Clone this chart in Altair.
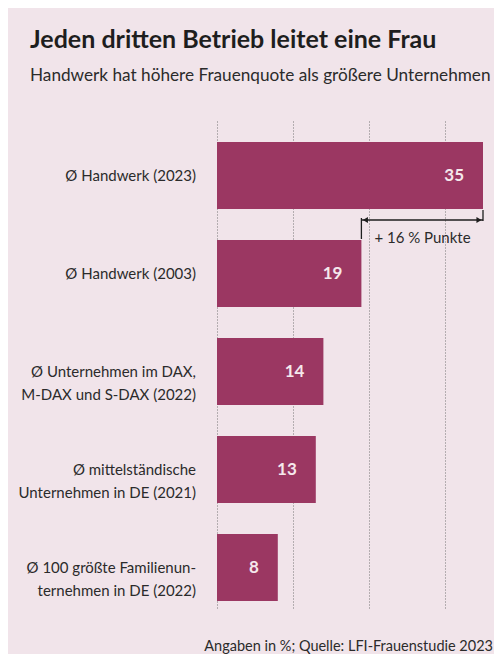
import altair as alt
import pandas as pd

# ---- data ----
labels = [
    "Ø Handwerk (2023)",
    "Ø Handwerk (2003)",
    "Ø Unternehmen im DAX,\nM-DAX und S-DAX (2022)",
    "Ø mittelständische\nUnternehmen in DE (2021)",
    "Ø 100 größte Familienun-\nternehmen in DE (2022)",
]
values = [35, 19, 14, 13, 8]
gap_from = [19]
gap_to = [35]
gap_text = "+ 16 % Punkte"
grid_ticks = [0, 10, 20, 30]
title_text = "Jeden dritten Betrieb leitet eine Frau"
subtitle_text = "Handwerk hat höhere Frauenquote als größere Unternehmen"
source_text = "Angaben in %; Quelle: LFI-Frauenstudie 2023"

df = pd.DataFrame({"label": labels, "value": values})
ann = pd.DataFrame({"x": gap_from, "x2": gap_to})

FONT = "Lato, Roboto, sans-serif"
BAR = "#9b3762"
INK = "#2b2b2b"
BG = "#f1e4ea"
W, H = 266, 488

x = alt.X(
    "value:Q",
    scale=alt.Scale(domain=[0, 35], nice=False, zero=True),
    axis=alt.Axis(values=grid_ticks, grid=True, gridDash=[1, 2], gridColor="#777777",
                  gridWidth=1, labels=False, ticks=False, domain=False, title=None),
)
y = alt.Y("label:N", sort=labels,
          scale=alt.Scale(paddingInner=0.316, paddingOuter=0.148, align=0.76),
          axis=None)

base = alt.Chart(df)
bars = base.mark_bar(color=BAR).encode(x=x, y=y)
vals = base.mark_text(align="right", baseline="middle", dx=-19, fontSize=17,
                      fontWeight="bold", font=FONT, color="#f5e8ec").encode(
    x=alt.X("value:Q"), y=y, text="value:Q")
cats = base.mark_text(align="right", baseline="middle", lineBreak="\n", fontSize=15,
                      lineHeight=23, font=FONT, color=INK).encode(
    x=alt.value(-21), y=y, text="label:N")

a = alt.Chart(ann)
hline = a.mark_rule(color="#1e1e1e", strokeWidth=1.3).encode(
    x="x:Q", x2="x2:Q", y=alt.value(100))
lvert = a.mark_rule(color="#1e1e1e", strokeWidth=1.3).encode(
    x="x:Q", y=alt.value(98), y2=alt.value(119))
rvert = a.mark_rule(color="#1e1e1e", strokeWidth=1.3).encode(
    x="x2:Q", y=alt.value(90), y2=alt.value(101))
larrow = a.mark_point(shape="triangle-left", filled=True, size=35, color="#1e1e1e", opacity=1).encode(
    x="x:Q", y=alt.value(100), xOffset=alt.value(4))
rarrow = a.mark_point(shape="triangle-right", filled=True, size=35, color="#1e1e1e", opacity=1).encode(
    x="x2:Q", y=alt.value(100), xOffset=alt.value(-4))
gtext = a.mark_text(align="left", baseline="middle", dx=13, fontSize=15, font=FONT, color=INK).encode(
    x="x:Q", y=alt.value(118), text=alt.value(gap_text))
footer = a.mark_text(align="right", baseline="middle", fontSize=14.5, font=FONT, color=INK).encode(
    x=alt.value(W + 10), y=alt.value(H + 39), text=alt.value(source_text))

chart = alt.layer(bars, vals, cats, hline, lvert, rvert, larrow, rarrow, gtext, footer).properties(
    width=W, height=H,
    autosize="none",
    padding={"left": 209, "top": 112, "right": 11, "bottom": 46},
    background=BG,
    title=alt.TitleParams(
        text=title_text, subtitle=subtitle_text, anchor="start", frame="group",
        dx=-187, offset=36, font=FONT, fontSize=25, fontWeight="bold", color="#1e1e1e",
        subtitleFont=FONT, subtitleFontSize=17.2, subtitleColor=INK, subtitlePadding=14,
    ),
).configure_view(stroke=None)

chart.save("out.html", embed_options={"renderer": "svg", "actions": False})
